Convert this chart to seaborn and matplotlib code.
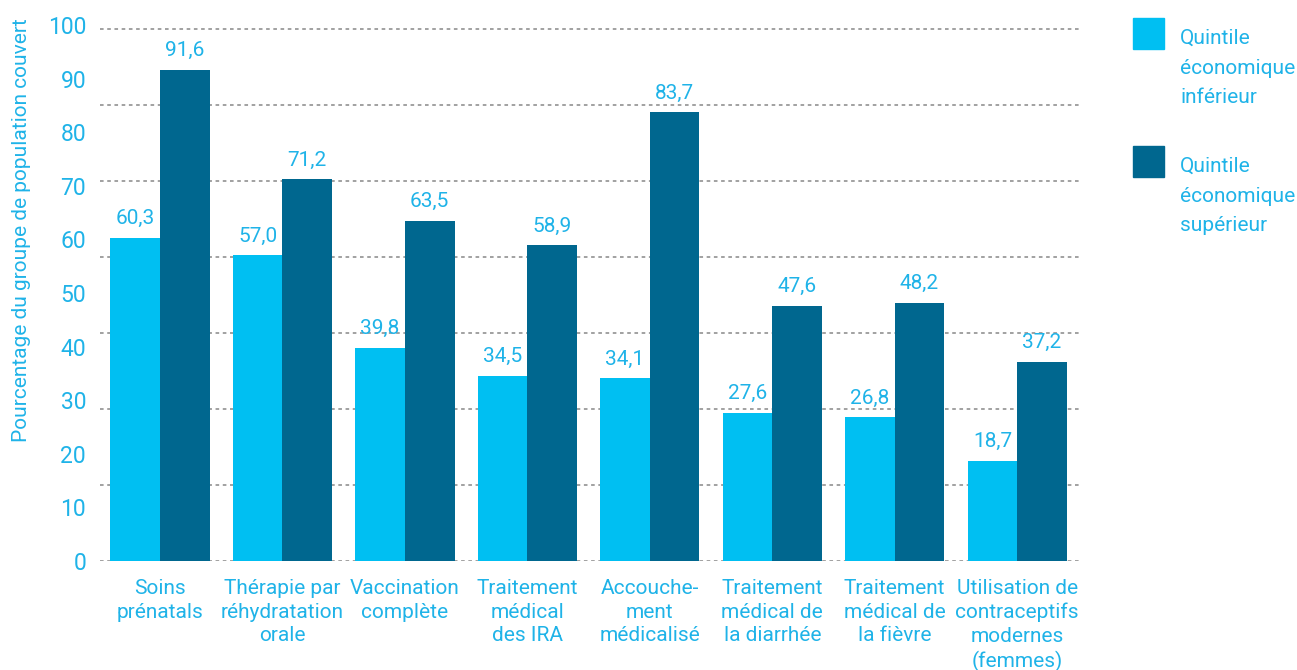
import numpy as np
import pandas as pd
import matplotlib
matplotlib.use("Agg")
import matplotlib.pyplot as plt
import seaborn as sns
from matplotlib.patches import Rectangle

# data
categories = ["Soins\nprénatals", "Thérapie par\nréhydratation\norale", "Vaccination\ncomplète",
              "Traitement\nmédical\ndes IRA", "Accouche-\nment\nmédicalisé", "Traitement\nmédical de\nla diarrhée",
              "Traitement\nmédical de\nla fièvre", "Utilisation de\ncontraceptifs\nmodernes\n(femmes)"]
lower = [60.3, 57.0, 39.8, 34.5, 34.1, 27.6, 26.8, 18.7]
upper = [91.6, 71.2, 63.5, 58.9, 83.7, 47.6, 48.2, 37.2]
groups = ["Quintile\néconomique\ninférieur", "Quintile\néconomique\nsupérieur"]
yticks = list(range(0, 101, 10))

light = "#00bff2"
dark = "#00678f"
txt = "#1fb3e8"

sns.set_style("white")
plt.rcParams['font.family'] = ['Roboto', 'DejaVu Sans']

df = pd.DataFrame({
    "cat": categories * 2,
    "val": lower + upper,
    "grp": [groups[0]] * len(lower) + [groups[1]] * len(upper),
})

fig = plt.figure(figsize=(12.97, 6.70), dpi=100)
ax = fig.add_axes([0.0771, 0.1627, 0.8343 - 0.0771, 0.9627 - 0.1627])

sns.barplot(data=df, x="cat", y="val", hue="grp", order=categories, hue_order=groups,
            palette=[light, dark], saturation=1, width=0.81, linewidth=0, ax=ax, legend=False)

# dotted guide lines (7 bands in the original design)
for g in np.linspace(0, 99.3, 8):
    ax.axhline(g, color="#9a9a9a", lw=1.3, ls=(0, (2, 2)), zorder=0)

for cont in ax.containers:
    ax.bar_label(cont, labels=[f"{b.get_height():.1f}".replace(".", ",") for b in cont],
                 padding=7, color=txt, fontsize=15)

ax.set_xlim(-0.49, 7.53)
ax.set_ylim(0, 100)
ax.set_yticks(yticks)
ax.set_yticklabels([str(t) for t in yticks])
ax.tick_params(axis="y", length=0, pad=10, labelsize=16.5, labelcolor=txt)
ax.tick_params(axis="x", length=0, pad=13, labelsize=15, labelcolor=txt)
for lab in ax.get_xticklabels():
    lab.set_linespacing(1.3)
ax.set_xlabel("")
ax.set_ylabel("")
sns.despine(ax=ax, left=True, bottom=True)

fig.text(22 / 1297, 1 - 230 / 670, "Pourcentage du groupe de population couvert",
         rotation=90, ha="center", va="center", color=txt, fontsize=15)

# legend drawn by hand
for i, (g, c) in enumerate(zip(groups, [light, dark])):
    top = 18 + i * 128
    fig.patches.append(Rectangle((1133 / 1297, 1 - (top + 31) / 670), 31 / 1297, 31 / 670,
                                 transform=fig.transFigure, color=c))
    fig.text(1180 / 1297, 1 - (top + 11) / 670, g, ha="left", va="top", color=txt,
             fontsize=15, linespacing=1.7)

fig.savefig("out.png", dpi=100)
